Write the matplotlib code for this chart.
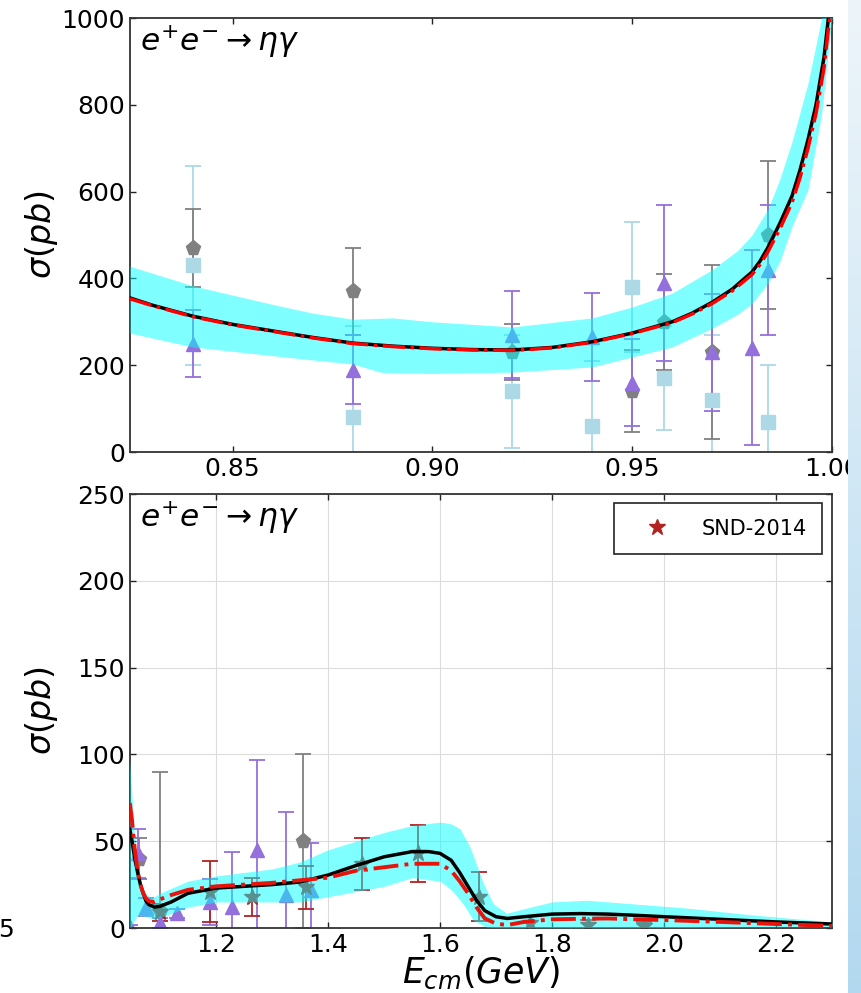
import numpy as np
import matplotlib
matplotlib.use("Agg")
import matplotlib.pyplot as plt
from matplotlib.ticker import FormatStrFormatter

# ---------------- data: top panel (phi region) ----------------
top_gray_x = [0.84, 0.88, 0.92, 0.95, 0.958, 0.97, 0.984]
top_gray_y = [470, 370, 230, 140, 300, 230, 500]
top_gray_err = [90, 100, 65, 95, 110, 200, 170]

top_sq_x = [0.84, 0.88, 0.92, 0.94, 0.95, 0.958, 0.97, 0.984]
top_sq_y = [430, 80, 140, 60, 380, 170, 120, 70]
top_sq_err = [230, 210, 130, 150, 150, 120, 150, 130]

top_tri_x = [0.84, 0.88, 0.92, 0.94, 0.95, 0.958, 0.97, 0.98, 0.984]
top_tri_y = [250, 190, 270, 265, 160, 390, 230, 240, 420]
top_tri_err = [78, 80, 100, 102, 100, 180, 135, 225, 150]

top_curve_x = [0.8243, 0.83, 0.84, 0.85, 0.86, 0.87, 0.88, 0.89, 0.90, 0.91, 0.92,
               0.93, 0.94, 0.95, 0.96, 0.965, 0.97, 0.975, 0.98, 0.982, 0.984, 0.987,
               0.99, 0.992, 0.994, 0.996, 0.998, 0.9991, 1.0]
top_black_y = [355, 338, 313, 294, 279, 264, 251, 244, 239, 236, 235,
               241, 254, 274, 300, 320, 345, 375, 415, 440, 472, 528,
               590, 650, 720, 800, 910, 1000, 1070]
top_red_y = [353, 337, 312, 293, 278, 263, 250, 243, 238, 235, 234,
             240, 253, 273, 298, 318, 342, 371, 409, 432, 462, 515,
             575, 632, 700, 780, 885, 975, 1040]

top_band_x = [0.8243, 0.84, 0.86, 0.87, 0.88, 0.887, 0.89, 0.90, 0.92, 0.94, 0.95,
              0.96, 0.97, 0.9765, 0.98, 0.984, 0.987, 0.99, 0.994, 0.9974, 1.0]
top_band_hi = [428, 383, 340, 320, 306, 308, 309, 300, 288, 309, 334,
               366, 420, 465, 500, 560, 630, 715, 850, 1000, 1150]
top_band_lo = [274, 242, 222, 212, 203, 184, 182, 181, 184, 196, 219,
               242, 285, 318, 342, 389, 440, 520, 605, 780, 1000]

# ---------------- data: bottom panel ----------------
bot_gray_x = [1.062, 1.10, 1.355]
bot_gray_y = [40, 10, 50]
bot_gray_err = [12, 80, 50]

bot_tri_x = [1.047, 1.06, 1.075, 1.10, 1.13, 1.19, 1.228, 1.273, 1.325, 1.37]
bot_tri_y = [0.5, 43, 12, 3, 8.5, 15, 12, 45, 19, 22]
bot_tri_err = [1, 14, 5, 3, 2.5, 13, 32, 52, 48, 27]

snd_x = [1.10, 1.19, 1.265, 1.36, 1.46, 1.56, 1.67, 1.76, 1.865, 1.965]
snd_y = [9, 21, 18, 23.5, 37, 43, 18, 3, 1.5, 1]
snd_err = [5, 17.5, 11, 12.5, 15, 16.5, 14, 4, 3, 2.5]

bot_curve_x = [1.046, 1.05, 1.055, 1.06, 1.065, 1.07, 1.075, 1.08, 1.09, 1.10, 1.12, 1.15,
               1.2, 1.25, 1.3, 1.35, 1.4, 1.45, 1.5, 1.55, 1.58, 1.6, 1.62, 1.635,
               1.65, 1.665, 1.68, 1.7, 1.72, 1.75, 1.8, 1.85, 1.9, 1.95, 2.0, 2.1,
               2.2, 2.3]
bot_black_y = [57, 50, 40, 32, 25, 20, 15.5, 13.5, 12, 12.5, 15, 20,
               23, 24, 25, 26.5, 30.5, 36, 41, 44, 44, 43, 39, 32,
               24, 16, 10, 6.5, 5.5, 6.5, 8, 8.3, 8, 7.3, 6.5, 5,
               3.5, 2.3]
bot_red_y = [72, 62, 45, 33, 25, 20, 17, 15.5, 15, 16.5, 19, 22,
             24, 25, 26, 27.5, 29, 33, 35, 37, 37, 37, 33, 27,
             20, 12, 5.5, 2.5, 1.7, 3.5, 5, 5.3, 5.5, 5, 4.6, 3.5,
             2.3, 1.2]

bot_band_x = [1.046, 1.05, 1.055, 1.06, 1.07, 1.08, 1.09, 1.1, 1.15, 1.2, 1.25, 1.3,
              1.35, 1.4, 1.45, 1.5, 1.55, 1.6, 1.62, 1.636, 1.641, 1.653, 1.659, 1.677,
              1.683, 1.695, 1.719, 1.755, 1.8, 1.862, 1.921, 2.04, 2.159, 2.3]
bot_band_hi = [97, 75, 50, 35, 22, 18, 18, 20, 27, 30, 32, 34,
               38, 45, 50, 55, 59, 61, 60, 57, 54, 47, 42, 26,
               22, 14, 8.5, 11.5, 15, 16, 14.5, 11.5, 7.5, 3.5]
bot_band_lo = [0, 2, 5, 7, 7, 6, 5, 6, 12, 15, 15, 15,
               15, 18, 21, 24, 29, 27, 22, 16, 14, 8, 4.6, 1.5,
               0.5, 0.3, 0.2, 0.2, 0.2, 0.2, 0.2, 0.3, 0.6, 0.8]

# ---------------- styling ----------------
W, H = 862, 993
fig = plt.figure(figsize=(W / 100, H / 100), dpi=100)
ax1 = fig.add_axes([130 / W, 1 - 452 / H, 702 / W, 434 / H])
ax2 = fig.add_axes([130 / W, 1 - 928 / H, 702 / W, 434 / H])

GRAY = '#808080'
LBLUE = '#add8e6'
PURPLE = '#9370db'
SNDC = '#b22222'
eb_kw = dict(linestyle='none', capsize=6, elinewidth=1.3, capthick=1.3, zorder=2)

# top panel
ax1.errorbar(top_sq_x, top_sq_y, yerr=top_sq_err, marker='s', ms=10, color=LBLUE, **eb_kw)
ax1.errorbar(top_gray_x, top_gray_y, yerr=top_gray_err, marker='p', ms=11, color=GRAY, **eb_kw)
ax1.errorbar(top_tri_x, top_tri_y, yerr=top_tri_err, marker='^', ms=10, color=PURPLE, **eb_kw)
ax1.fill_between(top_band_x, top_band_lo, top_band_hi, color='cyan', alpha=0.5, lw=0, zorder=3)
ax1.plot(top_curve_x, top_black_y, color='black', lw=2.5, zorder=4)
ax1.plot(top_curve_x, top_red_y, color='red', lw=2.5, ls='-.', zorder=5)
ax1.set_xlim(0.8243, 1.0)
ax1.set_ylim(0, 1000)
ax1.set_xticks([0.85, 0.90, 0.95, 1.00])
ax1.xaxis.set_major_formatter(FormatStrFormatter('%.2f'))
ax1.set_yticks([0, 200, 400, 600, 800, 1000])

# bottom panel
ax2.grid(True, color='#dcdcdc', lw=0.8, zorder=0)
ax2.set_axisbelow(True)
ax2.errorbar(bot_gray_x, bot_gray_y, yerr=bot_gray_err, marker='p', ms=11, color=GRAY, **eb_kw)
ax2.errorbar(bot_tri_x, bot_tri_y, yerr=bot_tri_err, marker='^', ms=10, color=PURPLE, **eb_kw)
ax2.errorbar(snd_x, snd_y, yerr=snd_err, marker='*', ms=12, color=SNDC, label='SND-2014', **eb_kw)
ax2.fill_between(bot_band_x, bot_band_lo, bot_band_hi, color='cyan', alpha=0.5, lw=0, zorder=3)
ax2.plot(bot_curve_x, bot_black_y, color='black', lw=2.5, zorder=4)
ax2.plot(bot_curve_x, bot_red_y, color='#e8140c', lw=2.8, ls='-.', zorder=5)
ax2.set_xlim(1.0464, 2.3)
ax2.set_ylim(0, 250)
ax2.set_xticks([1.2, 1.4, 1.6, 1.8, 2.0, 2.2])
ax2.xaxis.set_major_formatter(FormatStrFormatter('%.1f'))
ax2.set_yticks([0, 50, 100, 150, 200, 250])

handles, labels = ax2.get_legend_handles_labels()
leg = ax2.legend([handles[0][0]], labels, loc='upper right',
                 bbox_to_anchor=(0.9858, 0.9793), borderaxespad=0, fontsize=15,
                 fancybox=False, edgecolor='#222222', framealpha=1,
                 borderpad=0.75, handlelength=2.65, handletextpad=0.8)
leg.get_frame().set_linewidth(1.2)

for ax in (ax1, ax2):
    ax.tick_params(direction='in', top=True, right=True, length=4, width=1,
                   labelsize=18, colors='#222222', labelcolor='black')
    for s in ax.spines.values():
        s.set_color('#333333')
        s.set_linewidth(1.3)
    ax.set_ylabel(r'$\sigma(pb)$', fontsize=24)
    ax.yaxis.set_label_coords(-0.1, 0.5)
    ax.text(0.014, 0.987, r'$e^{+}e^{-}\rightarrow\eta\gamma$', transform=ax.transAxes,
            fontsize=22.5, ha='left', va='top', zorder=6)

ax2.set_xlabel(r'$E_{cm}(GeV)$', fontsize=25)
ax2.xaxis.set_label_coords(0.5, -0.062)

# stray cropped tick label at left edge
fig.text(-0.002, 1 - 930 / H, '5', fontsize=18, ha='left', va='center')

# light blue strip at the right edge
sax = fig.add_axes([848 / W, 0, 14 / W, 1], zorder=10)
top_c = np.array([0.93, 0.96, 0.98])
bot_c = np.array([0.70, 0.85, 0.94])
t = np.linspace(0, 1, 256)[:, None, None]
grad = top_c[None, None, :] * (1 - t) + bot_c[None, None, :] * t
sax.imshow(grad, aspect='auto', extent=(0, 1, 0, 1))
sax.axis('off')

fig.savefig('out.png', dpi=100)
